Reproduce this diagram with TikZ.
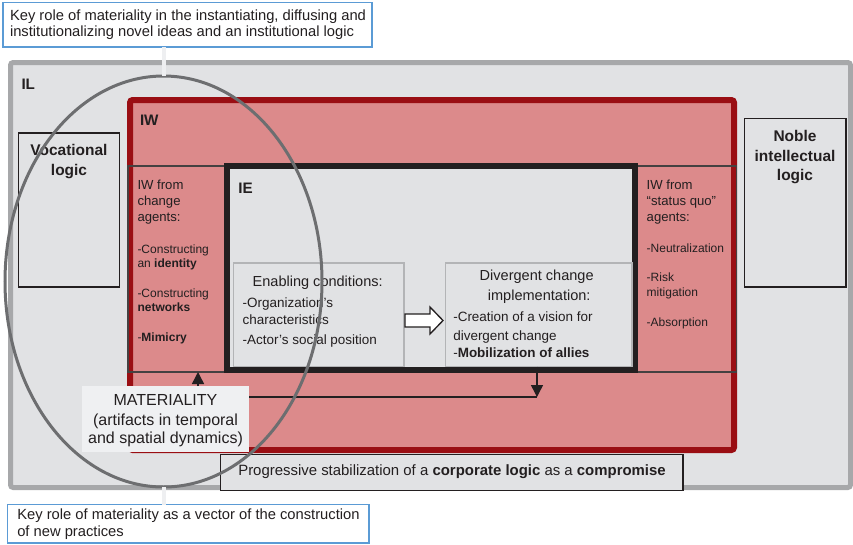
\documentclass[tikz,border=0pt]{standalone}
\usepackage{fontspec}
\setmainfont{Liberation Sans}
\usetikzlibrary{arrows.meta,shapes.geometric,calc}

\definecolor{ilfill}{HTML}{E1E2E4}
\definecolor{illine}{HTML}{A7A8AA}
\definecolor{iwfill}{HTML}{DC8A8B}
\definecolor{iwline}{HTML}{9A0E13}
\definecolor{ink}{HTML}{231F20}
\definecolor{ellcol}{HTML}{6D6E70}
\definecolor{bluebox}{HTML}{5B9BD5}
\definecolor{matfill}{HTML}{EFF0F2}
\definecolor{subline}{HTML}{B3B4B6}
\definecolor{leadcol}{HTML}{EEEFF1}

\begin{document}
\begin{tikzpicture}[x=0.75pt,y=-0.75pt,
  every node/.style={inner sep=0pt,outer sep=0pt},
  boxwh/.style 2 args={rectangle,minimum width=#1*0.75pt,minimum height=#2*0.75pt},
  txt/.style={text=ink},
  ftitle/.style={txt,font=\bfseries\fontsize{11.4pt}{14pt}\selectfont},
  flogic/.style={txt,font=\bfseries\fontsize{11.6pt}{14pt}\selectfont},
  flabel/.style={txt,font=\fontsize{11.05pt}{13pt}\selectfont},
  fcomp/.style={txt,font=\fontsize{11.2pt}{13pt}\selectfont},
  fhead/.style={txt,font=\fontsize{10.9pt}{13pt}\selectfont},
  fbody/.style={txt,font=\fontsize{10.1pt}{12pt}\selectfont},
  fiw/.style={txt,font=\fontsize{9.85pt}{12pt}\selectfont},
  fitem/.style={txt,font=\fontsize{9pt}{11pt}\selectfont},
  fmat/.style={txt,font=\fontsize{12pt}{14pt}\selectfont},
  lw/.style={anchor=base west},
  lc/.style={anchor=base},
  flow/.style={draw=ink,line width=1.1pt,-{Triangle[length=9pt,width=9pt]}},
  plain/.style={draw=ink,line width=0.9pt},
  lead/.style={draw=leadcol,line width=3pt},
]
\useasboundingbox (0,0) rectangle (853,544);

% institutional logic frame
\node[boxwh={840}{425},draw=illine,fill=ilfill,line width=3.75pt,rounded corners=2pt] (il) at (430.5,275) {};
\node[ftitle,lw] (iltag) at (21.5,89) {IL};

% competing logics
\node[boxwh={101}{154},draw=ink,fill=ilfill,line width=0.8pt] (voc) at (69,210) {};
\node[flogic,lc] (voc1) at (69,155) {Vocational};
\node[flogic,lc] (voc2) at (69,175) {logic};
\node[boxwh={101.5}{168.5},draw=ink,fill=ilfill,line width=0.8pt] (noble) at (795.25,202.75) {};
\node[flogic,lc] (nob1) at (795,141) {Noble};
\node[flogic,lc] (nob2) at (795,161) {intellectual};
\node[flogic,lc] (nob3) at (795,180) {logic};

% institutional work frame
\node[boxwh={604}{350},draw=iwline,fill=iwfill,line width=4.5pt,rounded corners=2pt] (iw) at (432,275) {};
\node[ftitle,lw] (iwtag) at (140,125.7) {IW};
\node[boxwh={99}{206},draw=ink!85,line width=0.8pt] (leftsub) at (177.5,269) {};
\node[boxwh={101}{206},draw=ink!85,line width=0.8pt] (rightsub) at (686,269) {};

% institutional entrepreneurship frame
\node[boxwh={408}{204},draw=ink,fill=ilfill,line width=4.5pt] (ie) at (431,268) {};
\node[ftitle,lw] (ietag) at (238.3,193.3) {IE};

% change agents
\node[fiw,lw] (la1) at (137.5,189.3) {IW from};
\node[fiw,lw] (la2) at (137.5,205) {change};
\node[fiw,lw] (la3) at (137.5,221.7) {agents:};
\node[fitem,lw] (la4) at (137.5,253.7) {-Constructing};
\node[fitem,lw] (la5) at (137.5,267.3) {an \textbf{identity}};
\node[fitem,lw] (la6) at (137.5,297.3) {-Constructing};
\node[fitem,lw] (la7) at (137.5,311.7) {\textbf{networks}};
\node[fitem,lw] (la8) at (137.5,341.7) {-\textbf{Mimicry}};

% status quo agents
\node[fiw,lw] (ra1) at (646.7,189.3) {IW from};
\node[fiw,lw] (ra2) at (646.7,205) {“status quo”};
\node[fiw,lw] (ra3) at (646.7,221.7) {agents:};
\node[fitem,lw] (ra4) at (646.7,252.7) {-Neutralization};
\node[fitem,lw] (ra5) at (646.7,281.7) {-Risk};
\node[fitem,lw] (ra6) at (646.7,296.7) {mitigation};
\node[fitem,lw] (ra7) at (646.7,326.7) {-Absorption};

% enabling conditions
\node[boxwh={170.5}{103.5},draw=subline,fill=ilfill,line width=1.1pt] (enab) at (318.75,314.75) {};
\node[fhead,lc] (en1) at (317.7,286.7) {Enabling conditions:};
\node[fbody,lw] (en2) at (242.7,307.7) {-Organization’s};
\node[fbody,lw] (en3) at (242.7,324.7) {characteristics};
\node[fbody,lw] (en4) at (242.7,344.3) {-Actor’s social position};

% divergent change implementation
\node[boxwh={186.5}{103.5},draw=subline,fill=ilfill,line width=1.1pt] (div) at (538.75,314.75) {};
\node[fhead,lc] (dv1) at (536.7,280) {Divergent change};
\node[fhead,lc] (dv2) at (539.2,300) {implementation:};
\node[fbody,lw] (dv3) at (453.3,321) {-Creation of a vision for};
\node[fbody,lw] (dv4) at (453.3,340) {divergent change};
\node[fbody,lw] (dv5) at (453.3,357.7) {-\textbf{Mobilization of allies}};

% outline arrow between the two stages
\coordinate (dtail) at (405,320.5);
\draw[ink,fill=white,line width=1pt]
  (dtail) ++(0,-6.5) -- ++(25,0) -- ++(0,-7) -- ++(13,13.5) -- ++(-13,13.5)
  -- ++(0,-7) -- ++(-25,0) -- cycle;

% compromise
\node[boxwh={462.5}{36},draw=ink,fill=ilfill,line width=0.9pt] (comp) at (451.75,472.5) {};
\node[fcomp,lw] (cp1) at (238.3,475) {Progressive stabilization of a \textbf{corporate logic} as a \textbf{compromise}};

% materiality
\node[boxwh={167}{66},fill=matfill] (mat) at (165.5,419) {};
\node[fmat,lc] (mt1) at (165.5,405) {MATERIALITY};
\node[fmat,lc] (mt2) at (165.5,425) {(artifacts in temporal};
\node[fmat,lc] (mt3) at (165.5,443.5) {and spatial dynamics)};

\coordinate (join) at (537,397);
\coordinate (upx) at (198,0);
\draw[flow] (join |- div.south) -- (join);
\draw[plain] (mat.east |- join) -- (join);
\draw[flow] (mat.north -| upx) -- (leftsub.south -| upx);

% scope of materiality
\node[ellipse,draw=ellcol,line width=2.25pt,minimum width=317*0.75pt,minimum height=411*0.75pt] (ell) at (163.5,281.5) {};

% annotations
\node[boxwh={369}{44.5},draw=bluebox,fill=white,line width=0.9pt] (toplab) at (187.5,24.75) {};
\node[flabel,lw] (tl1) at (10,20) {Key role of materiality in the instantiating, diffusing and};
\node[flabel,lw] (tl2) at (10,36.7) {institutionalizing novel ideas and an institutional logic};
\node[boxwh={361.5}{38.5},draw=bluebox,fill=white,line width=0.9pt] (botlab) at (188.25,523.75) {};
\node[flabel,lw] (bl1) at (17.3,519) {Key role of materiality as a vector of the construction};
\node[flabel,lw] (bl2) at (17.3,536.7) {of new practices};

\draw[lead] (ell.north |- toplab.south) -- (ell.north);
\draw[lead] (ell.south) -- (ell.south |- botlab.north);
\end{tikzpicture}
\end{document}
